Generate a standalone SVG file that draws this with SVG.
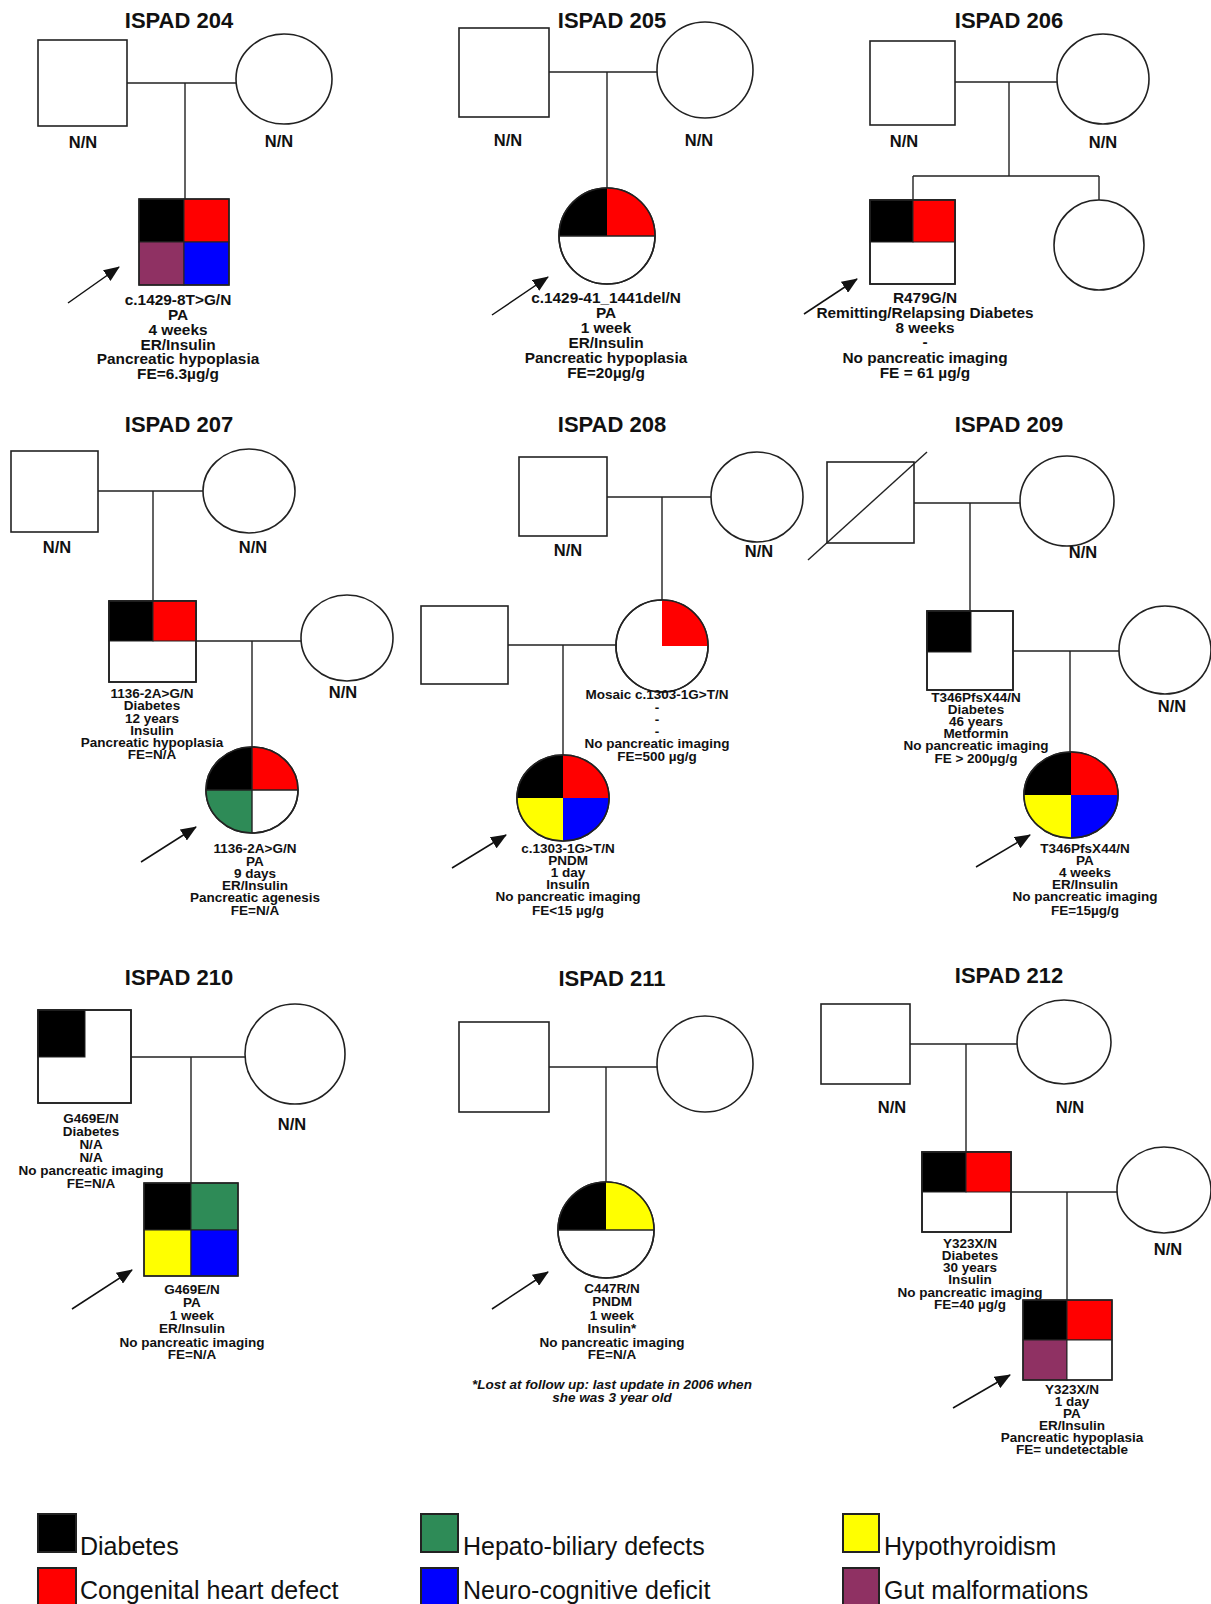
<svg xmlns="http://www.w3.org/2000/svg" width="1211" height="1604" viewBox="0 0 1211 1604">
<style>
.ln{stroke:#222;stroke-width:1.4;fill:none}
.sh{fill:#fff;stroke:#222;stroke-width:1.6}
.q{stroke:#222;stroke-width:1}
.bk{fill:#000}.rd{fill:#f00}.bl{fill:#00f}.yw{fill:#ff0}.gn{fill:#2e8b57}.pu{fill:#8f3163}.wh{fill:#fff}
.t{font-family:"Liberation Sans",Arial,sans-serif;font-weight:bold;text-anchor:middle;fill:#111}
.ttl{font-size:22px}
.nn{font-size:16.5px}
.l1{font-size:15.4px}
.l2{font-size:13.5px}
.fn{font-size:13.5px;font-style:italic}
.leg{font-family:"Liberation Sans",Arial,sans-serif;font-size:25px;fill:#111}
.lb{stroke:#222;stroke-width:2}
.ar{stroke:#111;stroke-width:1.5;fill:none;marker-end:url(#ah)}
</style>
<defs>
<marker id="ah" markerUnits="userSpaceOnUse" markerWidth="16" markerHeight="13" refX="15" refY="6.5" orient="auto">
<path d="M0,0 L16,6.5 L0,13 Z" fill="#111"/>
</marker>
</defs>
<rect x="0" y="0" width="1211" height="1604" fill="#fff"/>

<!-- connectors -->
<g id="connectors">
<path class="ln" d="M127,83 H236 M185,83 V199"/>
<path class="ln" d="M549,72 H657 M607,72 V188"/>
<path class="ln" d="M955,82 H1057 M1009,82 V176 M913,176 H1099 M913,176 V200 M1099,176 V200"/>
<path class="ln" d="M98,491 H203 M153,491 V601 M196,641 H301 M252,641 V747"/>
<path class="ln" d="M607,497 H711 M662,497 V600 M508,645 H616 M563,645 V755"/>
<path class="ln" d="M914,503 H1020 M970,503 V611 M1013,651 H1119 M1070,651 V752"/>
<path class="ln" d="M131,1057 H245 M191,1057 V1183"/>
<path class="ln" d="M549,1067 H657 M606,1067 V1182"/>
<path class="ln" d="M910,1044 H1017 M966,1044 V1152 M1011,1192 H1117 M1067,1192 V1300"/>
<line class="ar" x1="68" y1="303" x2="119" y2="267"/>
<line class="ar" x1="492" y1="315" x2="548" y2="277"/>
<line class="ar" x1="804" y1="314" x2="857" y2="279"/>
<line class="ar" x1="141" y1="862" x2="196" y2="827"/>
<line class="ar" x1="452" y1="868" x2="506" y2="835"/>
<line class="ar" x1="976" y1="867" x2="1030" y2="835"/>
<line class="ar" x1="72" y1="1309" x2="132" y2="1270"/>
<line class="ar" x1="492" y1="1309" x2="548" y2="1272"/>
<line class="ar" x1="953" y1="1408" x2="1010" y2="1375"/>
</g>

<!-- ISPAD 204 -->
<g id="f204">
<text class="t ttl" x="179" y="28">ISPAD 204</text>
<g id="f204-father"><rect class="sh" x="38" y="40" width="89" height="86"/><text class="t nn" x="83" y="148">N/N</text></g>
<g id="f204-mother"><ellipse class="sh" cx="284" cy="79" rx="48" ry="45"/><text class="t nn" x="279" y="147">N/N</text></g>
<g id="f204-proband">
<rect class="bk q" x="139" y="199" width="45" height="43"/>
<rect class="rd q" x="184" y="199" width="45" height="43"/>
<rect class="pu q" x="139" y="242" width="45" height="43"/>
<rect class="bl q" x="184" y="242" width="45" height="43"/>
<rect x="139" y="199" width="90" height="86" fill="none" stroke="#222" stroke-width="1.6"/>
<text class="t l1" x="178" y="305">c.1429-8T&gt;G/N</text>
<text class="t l1" x="178" y="320">PA</text>
<text class="t l1" x="178" y="335">4 weeks</text>
<text class="t l1" x="178" y="350">ER/Insulin</text>
<text class="t l1" x="178" y="364">Pancreatic hypoplasia</text>
<text class="t l1" x="178" y="379">FE=6.3µg/g</text>
</g>
</g>

<!-- ISPAD 205 -->
<g id="f205">
<text class="t ttl" x="612" y="28">ISPAD 205</text>
<g id="f205-father"><rect class="sh" x="459" y="28" width="90" height="89"/><text class="t nn" x="508" y="146">N/N</text></g>
<g id="f205-mother"><ellipse class="sh" cx="705" cy="70" rx="48" ry="48"/><text class="t nn" x="699" y="146">N/N</text></g>
<g id="f205-proband">
<ellipse class="sh" cx="607" cy="236" rx="48" ry="48"/>
<path class="bk" d="M607,236 L559,236 A48,48 0 0,1 607,188 Z"/>
<path class="rd" d="M607,236 L607,188 A48,48 0 0,1 655,236 Z"/>
<ellipse cx="607" cy="236" rx="48" ry="48" fill="none" stroke="#222" stroke-width="1.6"/>
<path class="ln" d="M559,236 H655"/>
<text class="t l1" x="606" y="303">c.1429-41_1441del/N</text>
<text class="t l1" x="606" y="318">PA</text>
<text class="t l1" x="606" y="333">1 week</text>
<text class="t l1" x="606" y="348">ER/Insulin</text>
<text class="t l1" x="606" y="363">Pancreatic hypoplasia</text>
<text class="t l1" x="606" y="378">FE=20µg/g</text>
</g>
</g>

<!-- ISPAD 206 -->
<g id="f206">
<text class="t ttl" x="1009" y="28">ISPAD 206</text>
<g id="f206-father"><rect class="sh" x="870" y="41" width="85" height="84"/><text class="t nn" x="904" y="147">N/N</text></g>
<g id="f206-mother"><ellipse class="sh" cx="1103" cy="79" rx="46" ry="45"/><text class="t nn" x="1103" y="148">N/N</text></g>
<g id="f206-proband">
<rect class="sh" x="870" y="200" width="85" height="84"/>
<rect class="bk q" x="870" y="200" width="43" height="42"/>
<rect class="rd q" x="913" y="200" width="42" height="42"/>
<rect x="870" y="200" width="85" height="84" fill="none" stroke="#222" stroke-width="1.6"/>
<text class="t l1" x="925" y="303">R479G/N</text>
<text class="t l1" x="925" y="318">Remitting/Relapsing Diabetes</text>
<text class="t l1" x="925" y="333">8 weeks</text>
<text class="t l1" x="925" y="347">-</text>
<text class="t l1" x="925" y="363">No pancreatic imaging</text>
<text class="t l1" x="925" y="378">FE = 61 µg/g</text>
</g>
<g id="f206-sister"><ellipse class="sh" cx="1099" cy="245" rx="45" ry="45"/></g>
</g>

<!-- ISPAD 207 -->
<g id="f207">
<text class="t ttl" x="179" y="432">ISPAD 207</text>
<g id="f207-gf"><rect class="sh" x="11" y="451" width="87" height="81"/><text class="t nn" x="57" y="553">N/N</text></g>
<g id="f207-gm"><ellipse class="sh" cx="249" cy="491" rx="46" ry="42"/><text class="t nn" x="253" y="553">N/N</text></g>
<g id="f207-father">
<rect class="sh" x="109" y="601" width="87" height="81"/>
<rect class="bk q" x="109" y="601" width="44" height="40"/>
<rect class="rd q" x="153" y="601" width="43" height="40"/>
<rect x="109" y="601" width="87" height="81" fill="none" stroke="#222" stroke-width="1.6"/>
<text class="t l2" x="152" y="698">1136-2A&gt;G/N</text>
<text class="t l2" x="152" y="710">Diabetes</text>
<text class="t l2" x="152" y="723">12 years</text>
<text class="t l2" x="152" y="735">Insulin</text>
<text class="t l2" x="152" y="747">Pancreatic hypoplasia</text>
<text class="t l2" x="152" y="759">FE=N/A</text>
</g>
<g id="f207-mother"><ellipse class="sh" cx="347" cy="638" rx="46" ry="43"/><text class="t nn" x="343" y="698">N/N</text></g>
<g id="f207-proband">
<ellipse class="sh" cx="252" cy="790" rx="46" ry="43"/>
<path class="bk" d="M252,790 L206,790 A46,43 0 0,1 252,747 Z"/>
<path class="rd" d="M252,790 L252,747 A46,43 0 0,1 298,790 Z"/>
<path class="gn" d="M252,790 L252,833 A46,43 0 0,1 206,790 Z"/>
<ellipse cx="252" cy="790" rx="46" ry="43" fill="none" stroke="#222" stroke-width="1.6"/>
<path class="ln" d="M206,790 H298 M252,747 V833"/>
<text class="t l2" x="255" y="853">1136-2A&gt;G/N</text>
<text class="t l2" x="255" y="866">PA</text>
<text class="t l2" x="255" y="878">9 days</text>
<text class="t l2" x="255" y="890">ER/Insulin</text>
<text class="t l2" x="255" y="902">Pancreatic agenesis</text>
<text class="t l2" x="255" y="915">FE=N/A</text>
</g>
</g>

<!-- ISPAD 208 -->
<g id="f208">
<text class="t ttl" x="612" y="432">ISPAD 208</text>
<g id="f208-gf"><rect class="sh" x="519" y="457" width="88" height="79"/><text class="t nn" x="568" y="556">N/N</text></g>
<g id="f208-gm"><ellipse class="sh" cx="757" cy="497" rx="46" ry="45"/><text class="t nn" x="759" y="557">N/N</text></g>
<g id="f208-father"><rect class="sh" x="421" y="606" width="87" height="78"/></g>
<g id="f208-mother">
<ellipse class="sh" cx="662" cy="646" rx="46" ry="46"/>
<path class="rd" d="M662,646 L662,600 A46,46 0 0,1 708,646 Z"/>
<ellipse cx="662" cy="646" rx="46" ry="46" fill="none" stroke="#222" stroke-width="1.6"/>
<text class="t l2" x="657" y="699">Mosaic c.1303-1G&gt;T/N</text>
<text class="t l2" x="657" y="712">-</text>
<text class="t l2" x="657" y="724">-</text>
<text class="t l2" x="657" y="736">-</text>
<text class="t l2" x="657" y="748">No pancreatic imaging</text>
<text class="t l2" x="657" y="761">FE=500 µg/g</text>
</g>
<g id="f208-proband">
<ellipse class="sh" cx="563" cy="798" rx="46" ry="43"/>
<path class="bk" d="M563,798 L517,798 A46,43 0 0,1 563,755 Z"/>
<path class="rd" d="M563,798 L563,755 A46,43 0 0,1 609,798 Z"/>
<path class="yw" d="M563,798 L563,841 A46,43 0 0,1 517,798 Z"/>
<path class="bl" d="M563,798 L609,798 A46,43 0 0,1 563,841 Z"/>
<ellipse cx="563" cy="798" rx="46" ry="43" fill="none" stroke="#222" stroke-width="1.6"/>
<text class="t l2" x="568" y="853">c.1303-1G&gt;T/N</text>
<text class="t l2" x="568" y="865">PNDM</text>
<text class="t l2" x="568" y="877">1 day</text>
<text class="t l2" x="568" y="889">Insulin</text>
<text class="t l2" x="568" y="901">No pancreatic imaging</text>
<text class="t l2" x="568" y="915">FE&lt;15 µg/g</text>
</g>
</g>

<!-- ISPAD 209 -->
<g id="f209">
<text class="t ttl" x="1009" y="432">ISPAD 209</text>
<g id="f209-gf"><rect class="sh" x="827" y="462" width="87" height="81"/><line class="ln" x1="808" y1="560" x2="927" y2="452"/></g>
<g id="f209-gm"><ellipse class="sh" cx="1067" cy="501" rx="47" ry="45"/><text class="t nn" x="1083" y="558">N/N</text></g>
<g id="f209-father">
<rect class="sh" x="927" y="611" width="86" height="79"/>
<rect class="bk q" x="927" y="611" width="44" height="41"/>
<rect x="927" y="611" width="86" height="79" fill="none" stroke="#222" stroke-width="1.6"/>
<text class="t l2" x="976" y="702">T346PfsX44/N</text>
<text class="t l2" x="976" y="714">Diabetes</text>
<text class="t l2" x="976" y="726">46 years</text>
<text class="t l2" x="976" y="738">Metformin</text>
<text class="t l2" x="976" y="750">No pancreatic imaging</text>
<text class="t l2" x="976" y="763">FE &gt; 200µg/g</text>
</g>
<g id="f209-mother"><ellipse class="sh" cx="1165" cy="650" rx="46" ry="44"/><text class="t nn" x="1172" y="712">N/N</text></g>
<g id="f209-proband">
<ellipse class="sh" cx="1071" cy="795" rx="47" ry="43"/>
<path class="bk" d="M1071,795 L1024,795 A47,43 0 0,1 1071,752 Z"/>
<path class="rd" d="M1071,795 L1071,752 A47,43 0 0,1 1118,795 Z"/>
<path class="yw" d="M1071,795 L1071,838 A47,43 0 0,1 1024,795 Z"/>
<path class="bl" d="M1071,795 L1118,795 A47,43 0 0,1 1071,838 Z"/>
<ellipse cx="1071" cy="795" rx="47" ry="43" fill="none" stroke="#222" stroke-width="1.6"/>
<text class="t l2" x="1085" y="853">T346PfsX44/N</text>
<text class="t l2" x="1085" y="865">PA</text>
<text class="t l2" x="1085" y="877">4 weeks</text>
<text class="t l2" x="1085" y="889">ER/Insulin</text>
<text class="t l2" x="1085" y="901">No pancreatic imaging</text>
<text class="t l2" x="1085" y="915">FE=15µg/g</text>
</g>
</g>

<!-- ISPAD 210 -->
<g id="f210">
<text class="t ttl" x="179" y="985">ISPAD 210</text>
<g id="f210-father">
<rect class="sh" x="38" y="1010" width="93" height="93"/>
<rect class="bk q" x="38" y="1010" width="47" height="47"/>
<rect x="38" y="1010" width="93" height="93" fill="none" stroke="#222" stroke-width="1.6"/>
<text class="t l2" x="91" y="1123">G469E/N</text>
<text class="t l2" x="91" y="1136">Diabetes</text>
<text class="t l2" x="91" y="1149">N/A</text>
<text class="t l2" x="91" y="1162">N/A</text>
<text class="t l2" x="91" y="1175">No pancreatic imaging</text>
<text class="t l2" x="91" y="1188">FE=N/A</text>
</g>
<g id="f210-mother"><ellipse class="sh" cx="295" cy="1054" rx="50" ry="50"/><text class="t nn" x="292" y="1130">N/N</text></g>
<g id="f210-proband">
<rect class="bk q" x="144" y="1183" width="47" height="47"/>
<rect class="gn q" x="191" y="1183" width="47" height="47"/>
<rect class="yw q" x="144" y="1230" width="47" height="46"/>
<rect class="bl q" x="191" y="1230" width="47" height="46"/>
<rect x="144" y="1183" width="94" height="93" fill="none" stroke="#222" stroke-width="1.6"/>
<text class="t l2" x="192" y="1294">G469E/N</text>
<text class="t l2" x="192" y="1307">PA</text>
<text class="t l2" x="192" y="1320">1 week</text>
<text class="t l2" x="192" y="1333">ER/Insulin</text>
<text class="t l2" x="192" y="1347">No pancreatic imaging</text>
<text class="t l2" x="192" y="1359">FE=N/A</text>
</g>
</g>

<!-- ISPAD 211 -->
<g id="f211">
<text class="t ttl" x="612" y="986">ISPAD 211</text>
<g id="f211-father"><rect class="sh" x="459" y="1022" width="90" height="90"/></g>
<g id="f211-mother"><ellipse class="sh" cx="705" cy="1064" rx="48" ry="48"/></g>
<g id="f211-proband">
<ellipse class="sh" cx="606" cy="1230" rx="48" ry="48"/>
<path class="bk" d="M606,1230 L558,1230 A48,48 0 0,1 606,1182 Z"/>
<path class="yw" d="M606,1230 L606,1182 A48,48 0 0,1 654,1230 Z"/>
<ellipse cx="606" cy="1230" rx="48" ry="48" fill="none" stroke="#222" stroke-width="1.6"/>
<path class="ln" d="M558,1230 H654"/>
<text class="t l2" x="612" y="1293">C447R/N</text>
<text class="t l2" x="612" y="1306">PNDM</text>
<text class="t l2" x="612" y="1320">1 week</text>
<text class="t l2" x="612" y="1333">Insulin*</text>
<text class="t l2" x="612" y="1347">No pancreatic imaging</text>
<text class="t l2" x="612" y="1359">FE=N/A</text>
</g>
<text class="t fn" x="612" y="1389">*Lost at follow up: last update in 2006 when</text>
<text class="t fn" x="612" y="1402">she was 3 year old</text>
</g>

<!-- ISPAD 212 -->
<g id="f212">
<text class="t ttl" x="1009" y="983">ISPAD 212</text>
<g id="f212-gf"><rect class="sh" x="821" y="1004" width="89" height="80"/><text class="t nn" x="892" y="1113">N/N</text></g>
<g id="f212-gm"><ellipse class="sh" cx="1064" cy="1042" rx="47" ry="42"/><text class="t nn" x="1070" y="1113">N/N</text></g>
<g id="f212-father">
<rect class="sh" x="922" y="1152" width="89" height="80"/>
<rect class="bk q" x="922" y="1152" width="44" height="40"/>
<rect class="rd q" x="966" y="1152" width="45" height="40"/>
<rect x="922" y="1152" width="89" height="80" fill="none" stroke="#222" stroke-width="1.6"/>
<text class="t l2" x="970" y="1248">Y323X/N</text>
<text class="t l2" x="970" y="1260">Diabetes</text>
<text class="t l2" x="970" y="1272">30 years</text>
<text class="t l2" x="970" y="1284">Insulin</text>
<text class="t l2" x="970" y="1297">No pancreatic imaging</text>
<text class="t l2" x="970" y="1309">FE=40 µg/g</text>
</g>
<g id="f212-mother"><ellipse class="sh" cx="1164" cy="1190" rx="47" ry="43"/><text class="t nn" x="1168" y="1255">N/N</text></g>
<g id="f212-proband">
<rect class="bk q" x="1023" y="1300" width="44" height="40"/>
<rect class="rd q" x="1067" y="1300" width="45" height="40"/>
<rect class="pu q" x="1023" y="1340" width="44" height="40"/>
<rect class="wh q" x="1067" y="1340" width="45" height="40"/>
<rect x="1023" y="1300" width="89" height="80" fill="none" stroke="#222" stroke-width="1.6"/>
<text class="t l2" x="1072" y="1394">Y323X/N</text>
<text class="t l2" x="1072" y="1406">1 day</text>
<text class="t l2" x="1072" y="1418">PA</text>
<text class="t l2" x="1072" y="1430">ER/Insulin</text>
<text class="t l2" x="1072" y="1442">Pancreatic hypoplasia</text>
<text class="t l2" x="1072" y="1454">FE= undetectable</text>
</g>
</g>

<!-- Legend -->
<g id="legend">
<g id="leg-diabetes"><rect class="bk lb" x="38" y="1514" width="38" height="38"/><text class="leg" x="80" y="1555">Diabetes</text></g>
<g id="leg-hepato"><rect class="gn lb" x="421" y="1514" width="37" height="38"/><text class="leg" x="463" y="1555">Hepato-biliary defects</text></g>
<g id="leg-hypo"><rect class="yw lb" x="843" y="1514" width="36" height="38"/><text class="leg" x="884" y="1555">Hypothyroidism</text></g>
<g id="leg-heart"><rect class="rd lb" x="38" y="1568" width="38" height="40"/><text class="leg" x="80" y="1599">Congenital heart defect</text></g>
<g id="leg-neuro"><rect class="bl lb" x="421" y="1568" width="37" height="40"/><text class="leg" x="463" y="1599">Neuro-cognitive deficit</text></g>
<g id="leg-gut"><rect class="pu lb" x="843" y="1568" width="36" height="40"/><text class="leg" x="884" y="1599">Gut malformations</text></g>
</g>
</svg>
